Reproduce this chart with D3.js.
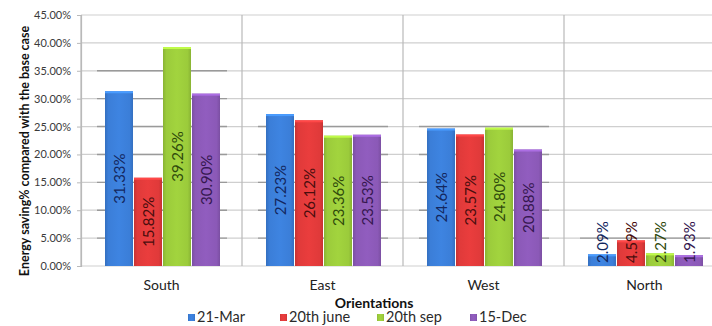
<!DOCTYPE html>
<html>
<head>
<meta charset="utf-8">
<script src="https://cdn.jsdelivr.net/npm/d3@7/dist/d3.min.js"></script>
<style>
  html, body { margin: 0; padding: 0; background: #fff; }
  svg { display: block; font-family: Lato, "Open Sans", "Liberation Sans", sans-serif; }
</style>
</head>
<body>
<svg id="chart" width="712" height="326"></svg>
<script>
// Energy saving per orientation, for four days of the year
const categories = ["South", "East", "West", "North"];
const seriesNames = ["21-Mar", "20th june", "20th sep", "15-Dec"];
const mar21 = [31.33, 27.23, 24.64, 2.09];
const june20 = [15.82, 26.12, 23.57, 4.59];
const sep20 = [39.26, 23.36, 24.80, 2.27];
const dec15 = [30.90, 23.53, 20.88, 1.93];
const yTicks = [0, 5, 10, 15, 20, 25, 30, 35, 40, 45];
// upper level of the darker reference grid segments in each group
const refLevels = [35, 25, 25, 5];

const seriesValues = [mar21, june20, sep20, dec15];
const fills = ["#3b7ed8", "#e03a3a", "#9bcb3b", "#8b59b7"];
const labelInk = ["#13275e", "#4a0e0e", "#2f4a0c", "#35174f"];

const svg = d3.select("#chart");
const defs = svg.append("defs");
fills.forEach((c, i) => {
  const g = defs.append("linearGradient").attr("id", "grad" + i)
    .attr("x1", "0").attr("x2", "1").attr("y1", "0").attr("y2", "0");
  const base = d3.color(c);
  g.append("stop").attr("offset", "0%").attr("stop-color", base.darker(0.35));
  g.append("stop").attr("offset", "12%").attr("stop-color", base);
  g.append("stop").attr("offset", "50%").attr("stop-color", base.brighter(0.12));
  g.append("stop").attr("offset", "88%").attr("stop-color", base);
  g.append("stop").attr("offset", "100%").attr("stop-color", base.darker(0.35));
});

const x = d3.scaleBand().domain(categories).range([81, 725]).padding(0);
const xInner = d3.scaleBand().domain(seriesNames).range([24, 140]).padding(0);
const y = d3.scaleLinear().domain([0, 45]).range([266, 15]);

// horizontal gridlines
svg.append("g").selectAll("line").data(yTicks).join("line")
  .attr("x1", 81).attr("x2", 725)
  .attr("y1", d => y(d)).attr("y2", d => y(d))
  .attr("stroke", "#cfcfcf").attr("stroke-width", 1.2);

// darker reference segments inside each group
const refG = svg.append("g");
categories.forEach((c, i) => {
  yTicks.filter(t => t > 0 && t <= refLevels[i]).forEach(t => {
    refG.append("line")
      .attr("x1", x(c) + 16).attr("x2", x(c) + 146)
      .attr("y1", y(t)).attr("y2", y(t))
      .attr("stroke", "#9a9a9a").attr("stroke-width", 1.4);
  });
});

// vertical category separators
svg.append("g").selectAll("line").data(categories.concat(["end"])).join("line")
  .attr("x1", (d, i) => 81 + i * x.bandwidth()).attr("x2", (d, i) => 81 + i * x.bandwidth())
  .attr("y1", y(45)).attr("y2", y(0))
  .attr("stroke", "#b9b9b9").attr("stroke-width", 1.2);

// y axis
const yAxis = svg.append("g").attr("transform", "translate(81,0)")
  .call(d3.axisLeft(y).tickValues(yTicks).tickSize(4).tickFormat(d => d.toFixed(2) + "%"));
yAxis.select(".domain").attr("stroke", "#b9b9b9").attr("stroke-width", 1.2);
yAxis.selectAll(".tick line").attr("stroke", "#b9b9b9");
yAxis.selectAll(".tick text").attr("x", -10).attr("fill", "#3a3a3a")
  .style("font-size", "11px").style("font-family", "Lato, sans-serif");

// bars
const bars = svg.append("g");
categories.forEach((c, ci) => {
  seriesNames.forEach((s, si) => {
    const v = seriesValues[si][ci];
    const bx = x(c) + xInner(s);
    const bw = xInner.bandwidth() - 1;
    bars.append("rect")
      .attr("x", bx).attr("y", y(v))
      .attr("width", bw).attr("height", y(0) - y(v))
      .attr("fill", `url(#grad${si})`);
    bars.append("rect")
      .attr("x", bx).attr("y", y(v))
      .attr("width", bw).attr("height", Math.min(2, y(0) - y(v)))
      .attr("fill", d3.color(fills[si]).brighter(0.6));
  });
});

// value labels, rotated, centred in the bar but kept above the baseline
const labels = svg.append("g");
categories.forEach((c, ci) => {
  seriesNames.forEach((s, si) => {
    const v = seriesValues[si][ci];
    const cx = x(c) + xInner(s) + (xInner.bandwidth() - 1) / 2;
    const t = labels.append("text")
      .attr("text-anchor", "middle")
      .attr("dominant-baseline", "central")
      .attr("fill", labelInk[si])
      .style("font-size", "15px")
      .text(v.toFixed(2) + "%");
    const len = t.node().getComputedTextLength();
    const cy = Math.min((y(v) + y(0)) / 2, y(0) - 3 - len / 2);
    t.attr("transform", `translate(${cx},${cy}) rotate(-90)`);
  });
});

// category labels
svg.append("g").selectAll("text").data(categories).join("text")
  .attr("x", d => x(d) + x.bandwidth() / 2).attr("y", 284)
  .attr("text-anchor", "middle").attr("dominant-baseline", "central")
  .attr("fill", "#222").style("font-size", "14px")
  .text(d => d);

// axis titles
svg.append("text").attr("x", 374).attr("y", 302)
  .attr("text-anchor", "middle").attr("dominant-baseline", "central")
  .attr("fill", "#111").style("font-size", "14px").style("font-weight", "bold")
  .text("Orientations");

svg.append("text")
  .attr("transform", "translate(24,151) rotate(-90)")
  .attr("text-anchor", "middle").attr("dominant-baseline", "central")
  .attr("fill", "#111").style("font-size", "12.5px").style("font-weight", "bold")
  .text("Energy saving% compared with the base case");

// legend
const legendX = [188, 280, 377, 470];
const legend = svg.append("g");
seriesNames.forEach((s, i) => {
  legend.append("rect").attr("x", legendX[i]).attr("y", 314)
    .attr("width", 7).attr("height", 7).attr("fill", `url(#grad${i})`);
  legend.append("text").attr("x", legendX[i] + 9).attr("y", 316.5)
    .attr("dominant-baseline", "central")
    .attr("fill", "#2a2a2a").style("font-size", "14.5px")
    .text(s);
});
</script>
</body>
</html>
